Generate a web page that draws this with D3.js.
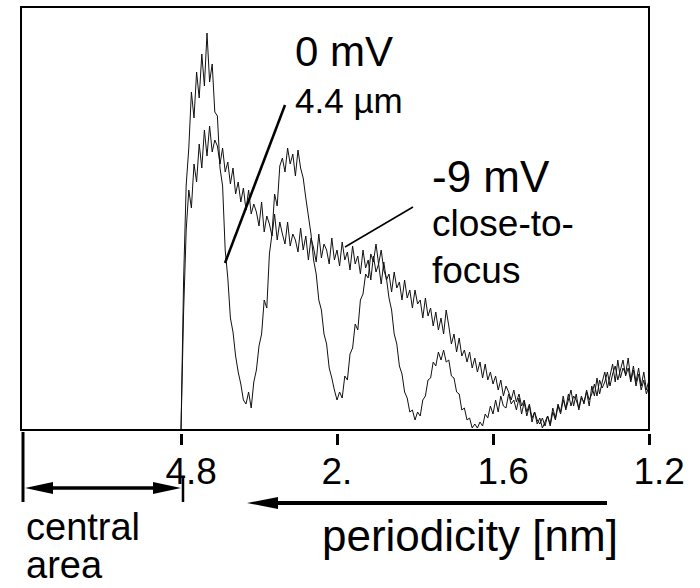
<!DOCTYPE html>
<html>
<head>
<meta charset="utf-8">
<script src="https://cdn.jsdelivr.net/npm/d3@7/dist/d3.min.js"></script>
<style>
  html, body { margin: 0; padding: 0; background: #fff; }
  svg text { font-family: "Liberation Sans", Arial, sans-serif; fill: #000; }
</style>
</head>
<body>
<script>
// periodicity axis: ticks are equally spaced on the plot
var tickLabels = ["4.8", "2.", "1.6", "1.2"];
var tickPos = [0, 1, 2, 3];
var samplesPerTick = 60;   // spectrum samples between two ticks

// power spectrum, arbitrary units, one sample every 1/60 tick from the 4.8 tick on
var power0mV = [
  0,150,245,282,338,312,358,332,376,344,
  397,348,366,318,314,262,244,180,152,112,
  98,74,58,46,30,26,38,22,48,60,
  84,96,130,122,176,196,236,224,264,272,
  258,282,266,276,254,280,262,252,232,214,
  196,170,156,130,120,96,86,62,52,40,
  30,38,32,54,50,76,82,106,100,130,
  136,156,152,176,168,186,166,180,160,152,
  132,120,96,86,64,56,38,32,18,20,
  10,18,14,30,34,50,52,68,64,78,
  70,80,68,70,54,52,38,36,20,22,
  10,12,2,6,2,8,4,16,12,24,
  16,30,18,34,24,22,36,26,30,20,
  32,16,28,14,24,8,18,10,6,12,
  4,14,6,22,12,26,18,34,20,30,
  40,24,36,20,32,28,38,24,44,34,
  52,36,48,58,42,54,66,48,70,52,
  62,56,72,50,64,48,62,44,58,40,
  50
];
var powerMinus9mV = [
  0,118,200,240,222,266,248,286,262,300,
  274,304,278,290,284,266,282,258,268,246,
  262,236,248,228,242,220,240,216,226,218,
  204,228,198,214,206,194,216,190,208,196,
  186,208,184,196,190,178,202,180,194,170,
  192,182,168,196,172,186,180,166,192,170,
  180,164,188,170,178,160,184,166,174,156,
  180,162,170,150,174,158,166,146,168,150,
  156,138,158,142,148,130,150,132,140,122,
  140,126,130,112,132,114,122,104,118,100,
  112,96,120,104,86,96,78,92,74,80,
  68,78,62,72,58,68,52,66,50,58,
  46,54,40,50,34,44,38,30,40,28,
  36,24,30,18,26,12,18,6,12,2,
  8,14,4,18,10,24,16,30,22,36,
  24,34,30,22,34,26,40,30,36,46,
  34,50,42,48,58,44,56,64,50,60,
  70,54,62,48,60,44,56,40,50,36,
  44
];

var w = 700, h = 588;
var plotL = 21, plotT = 7, plotR = 649, plotB = 430;

var svg = d3.select("body").append("svg")
    .attr("width", w)
    .attr("height", h);

var x = d3.scaleLinear().domain([-160 / 156, 3]).range([plotL, plotR]);
var y = d3.scaleLinear().domain([0, 423]).range([plotB, plotT]);

var line = d3.line()
    .x(function (d, i) { return x(i / samplesPerTick); })
    .y(function (d) { return y(d); });

[power0mV, powerMinus9mV].forEach(function (s) {
    svg.append("path")
        .datum(s)
        .attr("d", line)
        .attr("fill", "none")
        .attr("stroke", "#111")
        .attr("stroke-width", 1);
});

// frame
svg.append("rect")
    .attr("x", plotL).attr("y", plotT)
    .attr("width", plotR - plotL).attr("height", plotB - plotT)
    .attr("fill", "none").attr("stroke", "#000").attr("stroke-width", 2);

// ticks sit a little below the frame
var ax = svg.append("g")
    .attr("transform", "translate(0," + (plotB + 4) + ")")
    .call(d3.axisBottom(x)
        .tickValues(tickPos)
        .tickFormat(function (d, i) { return tickLabels[i]; })
        .tickSize(11));
ax.select(".domain").remove();
ax.selectAll(".tick line").attr("stroke", "#000").attr("stroke-width", 3);
ax.selectAll(".tick text")
    .attr("text-anchor", "start")
    .attr("x", -16).attr("y", 50).attr("dy", 0)
    .style("font-size", "37px")
    .attr("fill", "#000");

// central area marker
var x0 = x(0), xL = plotL + 2;
svg.append("line")
    .attr("x1", xL).attr("x2", xL).attr("y1", plotB + 2).attr("y2", 502)
    .attr("stroke", "#000").attr("stroke-width", 3);
svg.append("line")
    .attr("x1", x0 + 2).attr("x2", x0 + 2).attr("y1", 478).attr("y2", 502)
    .attr("stroke", "#000").attr("stroke-width", 2.5);
svg.append("line")
    .attr("x1", xL + 20).attr("x2", x0 - 18).attr("y1", 488).attr("y2", 488)
    .attr("stroke", "#000").attr("stroke-width", 3.5);
svg.append("path")
    .attr("d", "M" + (xL + 2) + ",488 L" + (xL + 30) + ",482 L" + (xL + 30) + ",494 Z")
    .attr("fill", "#000");
svg.append("path")
    .attr("d", "M" + (x0) + ",488 L" + (x0 - 28) + ",482 L" + (x0 - 28) + ",494 Z")
    .attr("fill", "#000");

// periodicity direction arrow
svg.append("line")
    .attr("x1", 607).attr("x2", 270).attr("y1", 503).attr("y2", 503)
    .attr("stroke", "#000").attr("stroke-width", 4);
svg.append("path")
    .attr("d", "M247,503 L278,497 L278,509 Z")
    .attr("fill", "#000");

// leaders
svg.append("line")
    .attr("x1", 225).attr("y1", 263).attr("x2", 285).attr("y2", 105)
    .attr("stroke", "#000").attr("stroke-width", 2.5);
svg.append("line")
    .attr("x1", 345).attr("y1", 247).attr("x2", 413).attr("y2", 207)
    .attr("stroke", "#000").attr("stroke-width", 1.5);

function label(txt, tx, ty, size) {
    svg.append("text").attr("x", tx).attr("y", ty)
        .style("font-size", size + "px").text(txt);
}
label("0 mV", 295, 66, 42);
label("4.4 \u00b5m", 295, 113, 35);
label("-9 mV", 432, 192, 44);
label("close-to-", 432, 236, 37);
label("focus", 432, 283, 37);
label("central", 26, 540, 38);
label("area", 26, 578, 38);
label("periodicity [nm]", 322, 551, 44);
</script>
</body>
</html>
